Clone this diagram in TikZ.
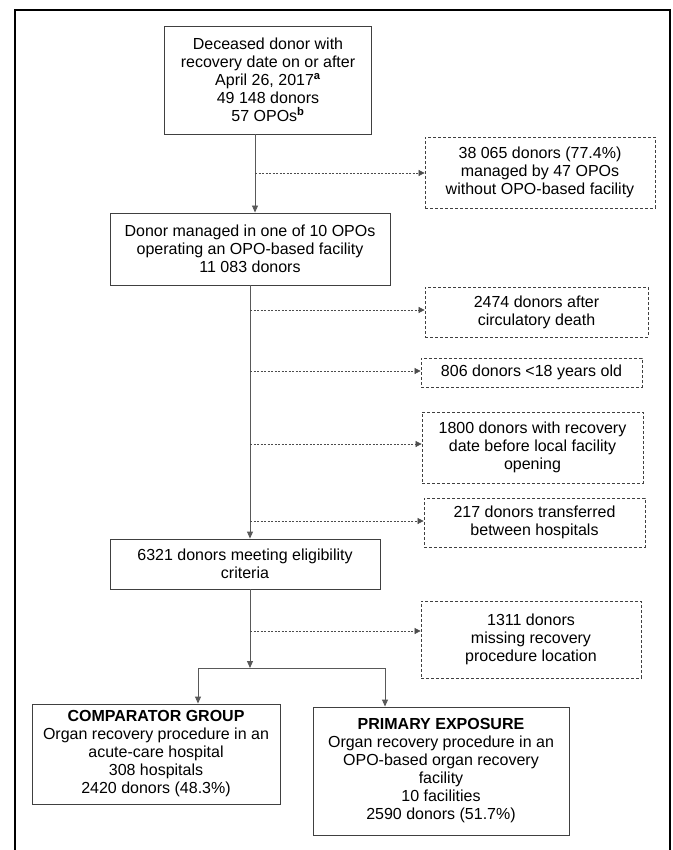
\documentclass[tikz,border=0pt]{standalone}
\usepackage{fontspec}
\setmainfont{Liberation Sans}
\usetikzlibrary{arrows.meta,calc}
\begin{document}
\begin{tikzpicture}[x=1pt,y=-1pt,
  every node/.style={font=\fontsize{16}{18}\selectfont, align=center, inner sep=0pt},
  sbox/.style={draw=black!75, line width=0.9pt},
  dbox/.style={draw=black!75, line width=0.8pt, dash pattern=on 3pt off 2pt},
  conn/.style={draw=black!65, line width=0.9pt},
  arr/.style={conn, -{Triangle[length=7pt,width=6pt]}},
  darr/.style={draw=black!70, line width=0.7pt, dash pattern=on 2pt off 1.5pt, -{Triangle[length=6pt,width=6pt]}}
]
\useasboundingbox (0,0) rectangle (672,850);
\draw[line width=2pt] (15,851) -- (15,10) -- (670,10) -- (670,851);

% main boxes
\node[sbox, minimum width=207, minimum height=108] (top) at (268,80)
  {Deceased donor with\\recovery date on or after\\April 26, 2017\textsuperscript{\textbf{a}}\\49 148 donors\\57 OPOs\textsuperscript{\textbf{b}}};
\node[sbox, minimum width=280, minimum height=72] (b2) at (250,249)
  {Donor managed in one of 10 OPOs\\operating an OPO-based facility\\11 083 donors};
\node[sbox, minimum width=270, minimum height=50] (b3) at (245,564)
  {6321 donors meeting eligibility\\criteria};
\node[sbox, minimum width=248, minimum height=100] (comp) at (156,754)
  {\textbf{COMPARATOR GROUP}\\Organ recovery procedure in an\\acute-care hospital\\308 hospitals\\2420 donors (48.3\%)};
\node[sbox, minimum width=256, minimum height=128] (prim) at (441,771)
  {\textbf{PRIMARY EXPOSURE}\\Organ recovery procedure in an\\OPO-based organ recovery\\facility\\10 facilities\\2590 donors (51.7\%)};

% exclusion boxes
\node[dbox, minimum width=230, minimum height=71] (d1) at (540,172.5)
  {38 065 donors (77.4\%)\\managed by 47 OPOs\\without OPO-based facility};
\node[dbox, minimum width=223, minimum height=50] (d2) at (536.5,312)
  {2474 donors after\\circulatory death};
\node[dbox, minimum width=221, minimum height=29] (d3) at (531.5,372.5)
  {806 donors <18 years old};
\node[dbox, minimum width=221, minimum height=71] (d4) at (532.5,447.5)
  {1800 donors with recovery\\date before local facility\\opening};
\node[dbox, minimum width=221, minimum height=49] (d5) at (534.5,522.5)
  {217 donors transferred\\between hospitals};
\node[dbox, minimum width=220, minimum height=77] (d6) at (531,639.5)
  {1311 donors\\missing recovery\\procedure location};

% spine coordinates
\coordinate (x1) at (255,0);
\coordinate (x2) at (250,0);
\coordinate (a1) at (255,173);
\coordinate (a2) at (250,310);
\coordinate (a3) at (250,371);
\coordinate (a4) at (250,444);
\coordinate (a5) at (250,521);
\coordinate (a6) at (250,631);
\coordinate (bm) at (250,668);
\coordinate (bl) at (198,668);
\coordinate (brr) at (385,668);

\draw[arr] (top.south -| x1) -- (b2.north -| x1);
\draw[arr] (b2.south -| x2) -- (b3.north -| x2);
\draw[arr] (b3.south -| x2) -- (bm);
\draw[conn] (bl) -- (brr);
\draw[arr] (bl) -- (bl |- comp.north);
\draw[arr] (brr) -- (brr |- prim.north);

\draw[darr] (a1) -- (a1 -| d1.west);
\draw[darr] (a2) -- (a2 -| d2.west);
\draw[darr] (a3) -- (a3 -| d3.west);
\draw[darr] (a4) -- (a4 -| d4.west);
\draw[darr] (a5) -- (a5 -| d5.west);
\draw[darr] (a6) -- (a6 -| d6.west);
\end{tikzpicture}
\end{document}
